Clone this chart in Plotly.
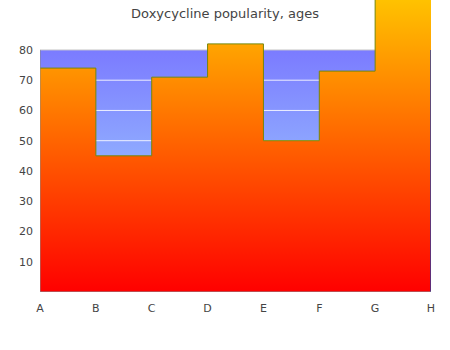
import plotly.graph_objects as go

categories = ["A", "B", "C", "D", "E", "F", "G", "H"]
ages = [74, 45, 71, 82, 50, 73, 127]
y_ticks = [10, 20, 30, 40, 50, 60, 70, 80]
band_top = 80

n = len(categories)
xs = list(range(n))
fig = go.Figure()

# blue background band
fig.add_trace(go.Scatter(
    x=[0, n - 1], y=[band_top, band_top], mode="lines",
    line=dict(color="#cccccc", width=1), fill="tozeroy",
    fillgradient=dict(type="vertical", start=0, stop=band_top,
                      colorscale=[[0, "rgb(169,230,255)"], [1, "rgb(123,123,255)"]]),
    hoverinfo="skip", showlegend=False))

# grid lines over blue band
for t in y_ticks[:-1]:
    fig.add_trace(go.Scatter(x=[0, n - 1], y=[t, t], mode="lines",
                             line=dict(color="rgba(255,255,255,0.85)", width=1),
                             hoverinfo="skip", showlegend=False))

# step area
fig.add_trace(go.Scatter(
    x=xs, y=ages + [ages[-1]], mode="lines", line_shape="hv",
    line=dict(color="#76870a", width=1), fill="tozeroy",
    fillgradient=dict(type="vertical", start=0, stop=max(ages),
                      colorscale=[[0, "rgb(255,0,0)"], [1, "rgb(255,255,0)"]]),
    hoverinfo="skip", showlegend=False))

fig.add_shape(type="line", x0=0, x1=0, y0=0, y1=band_top, line=dict(color="#888888", width=1))
fig.add_shape(type="line", x0=n - 1, x1=n - 1, y0=0, y1=band_top,
              line=dict(color="#2a3aa0", width=1.5))
fig.add_shape(type="line", x0=0, x1=n - 1, y0=0, y1=0, line=dict(color="#7a9aa0", width=1))

fig.update_layout(
    width=450, height=350,
    margin=dict(l=40, r=19, t=0, b=58),
    paper_bgcolor="white", plot_bgcolor="white",
    title=dict(text="Doxycycline popularity, ages", x=0.5, xanchor="center",
               y=0.963, yanchor="middle",
               font=dict(family="DejaVu Sans", size=13, color="#444444")),
    font=dict(family="DejaVu Sans", size=11, color="#444444"),
    xaxis=dict(range=[0, n - 1], tickvals=xs, ticktext=categories,
               showgrid=False, zeroline=False, showline=False, ticks="",
               ticklabelstandoff=8, fixedrange=True),
    yaxis=dict(range=[0, 96.5], tickvals=y_ticks, showgrid=False, zeroline=False,
               showline=False, ticks="", ticklabelstandoff=6, fixedrange=True),
)

fig.write_html("out.html")
